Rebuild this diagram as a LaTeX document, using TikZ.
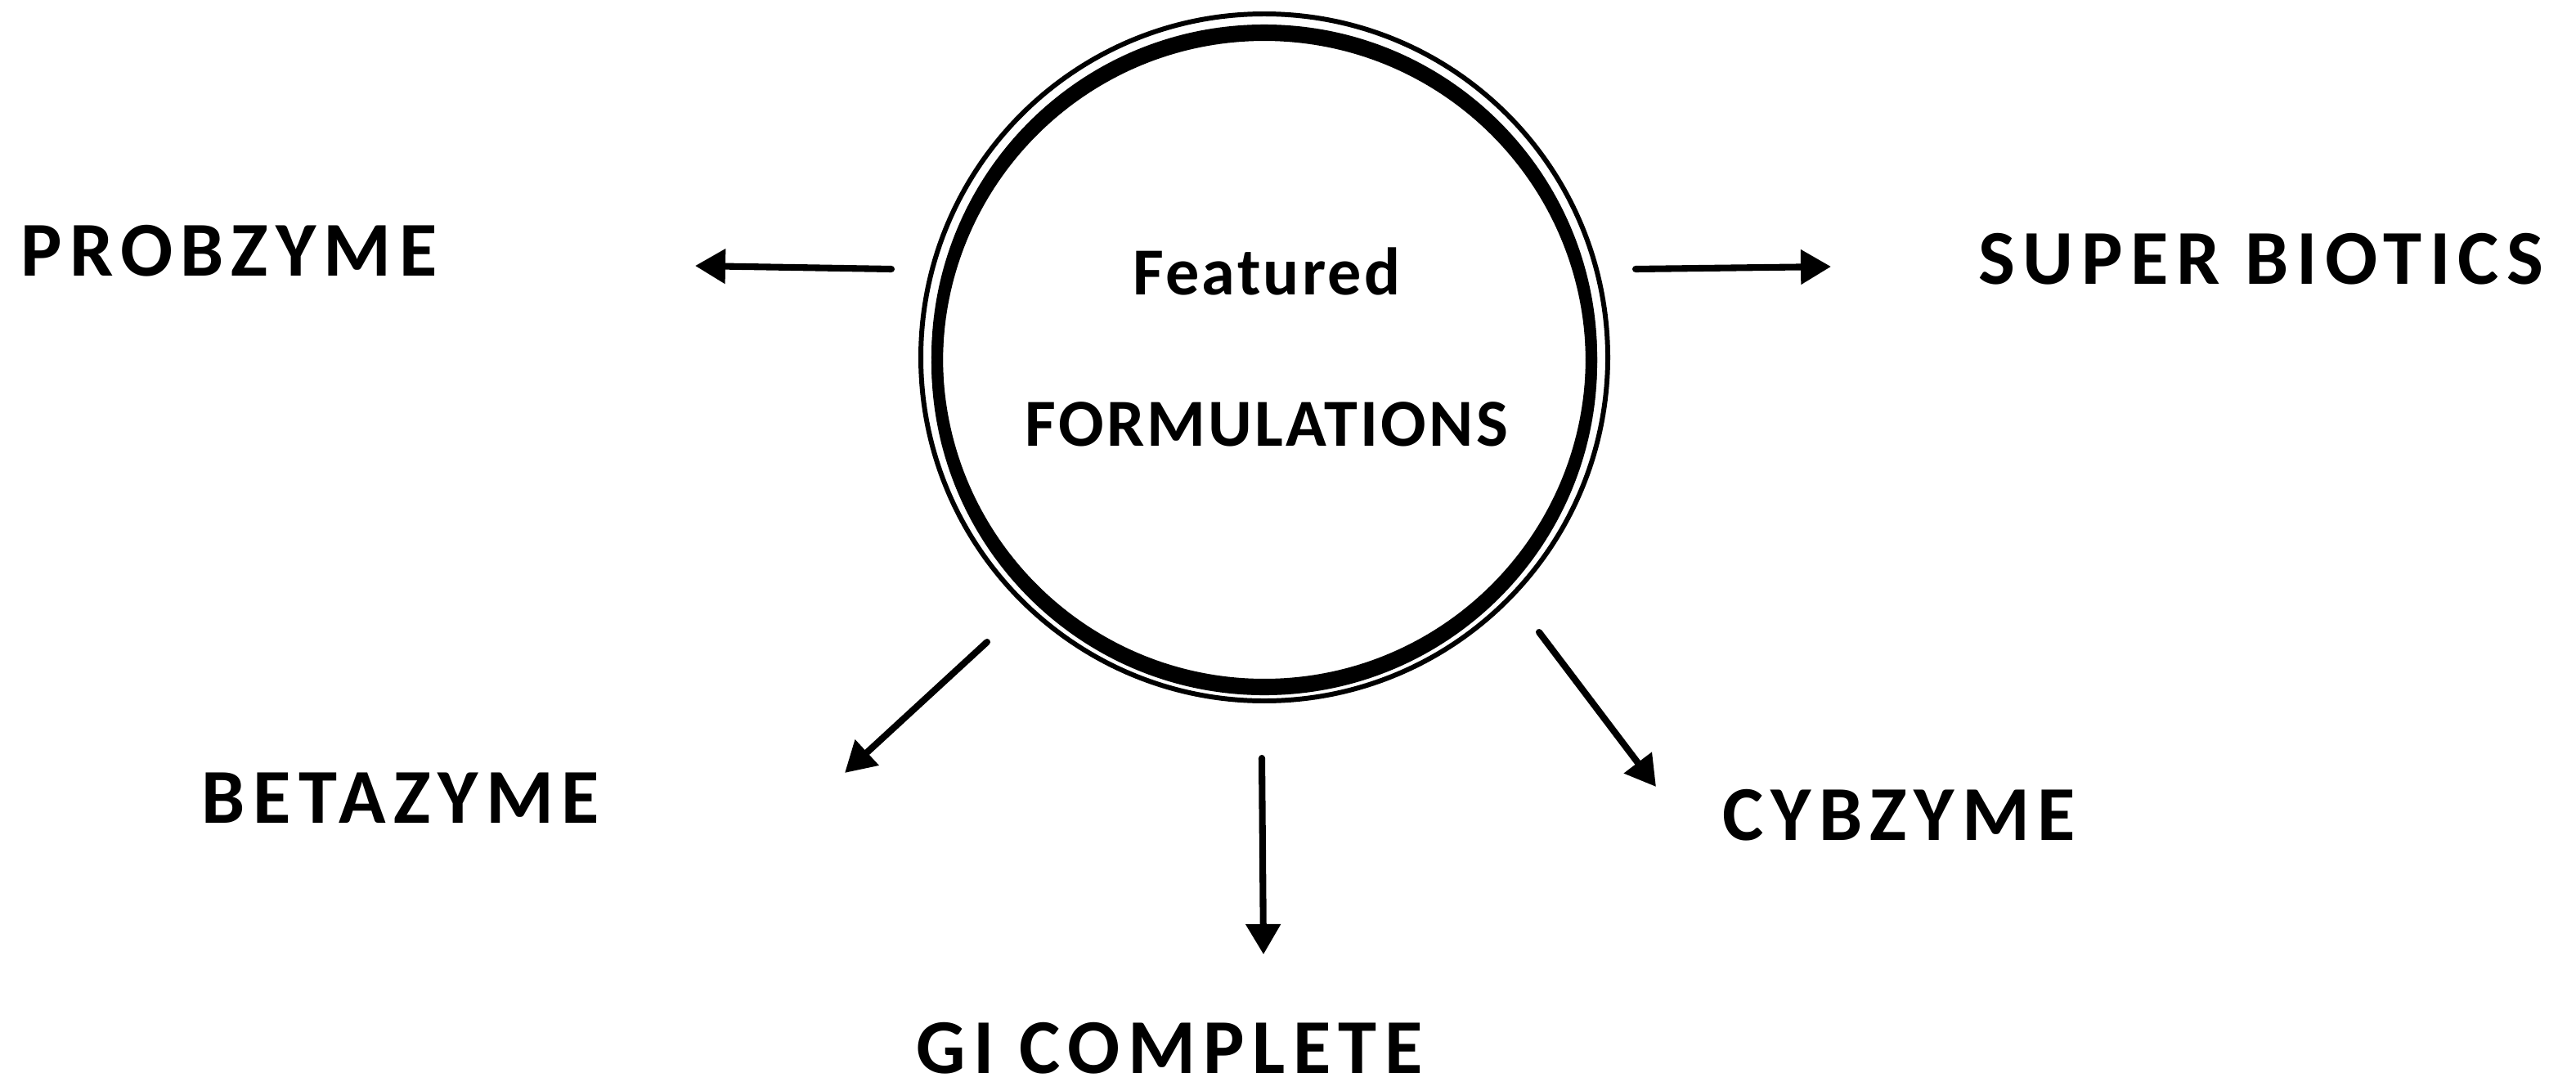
\documentclass[tikz,border=0pt]{standalone}
\usepackage{fontspec}
\setmainfont{Carlito}
\newfontfamily\labelfont[LetterSpace=10]{Carlito}
\newfontfamily\hubfont[LetterSpace=4]{Carlito}
\usetikzlibrary{arrows.meta}

\begin{document}
\begin{tikzpicture}[
    brand/.style={font=\labelfont\bfseries\fontsize{27}{30}\selectfont, anchor=base, inner sep=0pt, text depth=0pt},
    hubtext/.style={font=\hubfont\bfseries\fontsize{23.4}{26}\selectfont, anchor=base, inner sep=0pt},
    hub/.style={circle, draw, line width=4pt, minimum size=8cm, inner sep=0pt},
    ring/.style={line width=1.7pt},
    pointer/.style={line width=2.3pt, line cap=round, -{Triangle[length=3.7mm, width=4.1mm]}}
]

    % Page size
    \path[fill=white, use as bounding box] (0,0) rectangle (31.5,-13.22);

    % The hub with its two rings
    \node[hub] (hub) at (15.46,-4.37) {};
    \draw[line width=4pt] ([yshift=-0.6mm]hub.center) circle (4.0); % heavier at the bottom
    \draw[ring] (hub.center) circle (4.2);

    \node[hubtext] (featured) at (15.49,-3.60) {Featured};
    \node[hubtext] (formulations) at (15.49,-5.45) {FORMULATIONS};

    % Product names
    \node[brand] (probzyme) at (2.80,-3.37) {PROBZYME};
    \node[brand] (superbiotics) at (27.65,-3.47) {SUPER BIOTICS};
    \node[brand] (betazyme) at (4.90,-10.06) {BETAZYME};
    \node[brand] (cybzyme) at (23.22,-10.27) {CYBZYME};
    \node[brand] (gicomplete) at (14.30,-13.12) {GI COMPLETE};

    % Arrow ends
    \coordinate (probzyme-from) at (10.90,-3.29);
    \coordinate (probzyme-to) at (8.50,-3.25);
    \coordinate (superbiotics-from) at (20.00,-3.29);
    \coordinate (superbiotics-to) at (22.39,-3.26);
    \coordinate (betazyme-from) at (12.07,-7.85);
    \coordinate (betazyme-to) at (10.33,-9.45);
    \coordinate (cybzyme-from) at (18.82,-7.73);
    \coordinate (cybzyme-to) at (20.25,-9.62);
    \coordinate (gicomplete-from) at (15.43,-9.27);
    \coordinate (gicomplete-to) at (15.45,-11.67);

    \foreach \n in {probzyme, superbiotics, betazyme, cybzyme, gicomplete}
        \draw[pointer] (\n-from) -- (\n-to);

\end{tikzpicture}
\end{document}
